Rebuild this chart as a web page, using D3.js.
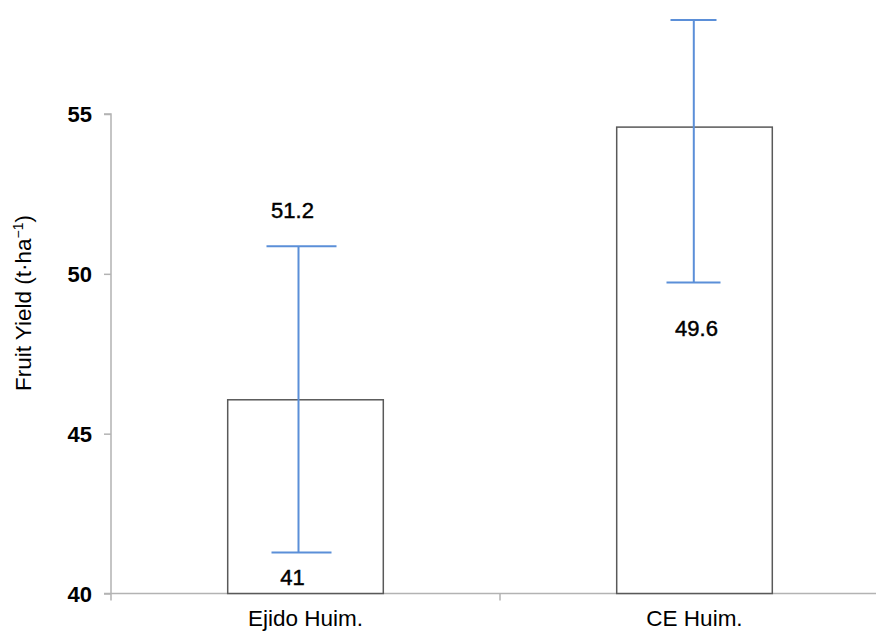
<!DOCTYPE html>
<html>
<head>
<meta charset="utf-8">
<script src="https://cdn.jsdelivr.net/npm/d3@7"></script>
<style>
  html, body { margin: 0; padding: 0; background: #fff; }
  svg { display: block; font-family: "Liberation Sans", Arial, sans-serif; }
</style>
</head>
<body>
<svg id="chart" width="876" height="631"></svg>
<script>
// Mean fruit yield per site with error bars
const categories = ["Ejido Huim.", "CE Huim."];
const meanYield = [46.06, 54.59];
const errHigh = [50.86, 57.94];
const errLow = [41.28, 49.73];
// Annotated extreme values shown beside the whiskers
const highLabels = ["51.2", null];
const lowLabels = ["41", "49.6"];
const yTicks = [40, 45, 50, 55];

const svg = d3.select("#chart");
const margin = { left: 111, bottom: 593.5 };

const y = d3.scaleLinear().domain([40, 55]).range([593.5, 114]);
const x = d3.scaleBand().domain(categories)
  .range([111, 889]).paddingInner(0.6).paddingOuter(0.3);

const axisColor = "#b3b3b3";

// Y axis
const yAxis = svg.append("g").attr("transform", `translate(${margin.left},0)`)
  .call(d3.axisLeft(y).tickValues(yTicks).tickSize(7).tickPadding(12).tickFormat(d3.format("d")));
yAxis.select(".domain").attr("stroke", axisColor).attr("stroke-width", 1.5)
  .attr("d", `M-7,${y(55)}H0V${y(40) + 7}`);
yAxis.selectAll(".tick line").attr("stroke", axisColor).attr("stroke-width", 1.5);
yAxis.selectAll(".tick text").attr("fill", "#000").attr("font-size", 22)
  .attr("font-weight", "bold").attr("dy", "0.36em");

// X axis
const bandStep = x.step();
const xAxis = svg.append("g").attr("transform", `translate(0,${margin.bottom})`);
xAxis.append("path").attr("stroke", axisColor).attr("stroke-width", 1.5).attr("fill", "none")
  .attr("d", `M104,0H${x.range()[1]}`);
const boundaries = [x.range()[0], x.range()[0] + bandStep, x.range()[0] + 2 * bandStep];
xAxis.selectAll("line.sep").data(boundaries.slice(1)).join("line")
  .attr("class", "sep")
  .attr("x1", d => d).attr("x2", d => d).attr("y1", 0).attr("y2", 7)
  .attr("stroke", axisColor).attr("stroke-width", 1.5);
xAxis.selectAll("text.cat").data(categories).join("text")
  .attr("class", "cat")
  .attr("x", d => x(d) + x.bandwidth() / 2).attr("y", 32)
  .attr("text-anchor", "middle").attr("font-size", 22.5).attr("fill", "#000")
  .text(d => d);

// Bars
svg.append("g").selectAll("rect").data(categories).join("rect")
  .attr("x", d => x(d)).attr("width", x.bandwidth())
  .attr("y", (d, i) => y(meanYield[i]))
  .attr("height", (d, i) => y(40) - y(meanYield[i]))
  .attr("fill", "#fff").attr("stroke", "#595959").attr("stroke-width", 1.5);

// Error bars
const whiskerShift = [-7, -0.7];
const capHalfHigh = [35, 23];
const capHalfLow = [30, 27];
const capShift = [-4, -1];
const blue = "#5b8fd8";
const eb = svg.append("g").attr("stroke", blue).attr("stroke-width", 2).attr("fill", "none");
categories.forEach((c, i) => {
  const cx = x(c) + x.bandwidth() / 2;
  const wx = cx + whiskerShift[i];
  const capX = cx + capShift[i];
  eb.append("line").attr("x1", wx).attr("x2", wx)
    .attr("y1", y(errHigh[i])).attr("y2", y(errLow[i]));
  eb.append("line").attr("x1", capX - capHalfHigh[i]).attr("x2", capX + capHalfHigh[i])
    .attr("y1", y(errHigh[i])).attr("y2", y(errHigh[i]));
  eb.append("line").attr("x1", capX - capHalfLow[i]).attr("x2", capX + capHalfLow[i])
    .attr("y1", y(errLow[i])).attr("y2", y(errLow[i]));
});

// Value annotations
const annoOffsetHigh = [-36, 0];
const annoOffsetLow = [24, 46];
const annoShiftX = [-13, 2];
const anno = svg.append("g").attr("font-size", 22).attr("fill", "#000")
  .attr("stroke", "#000").attr("stroke-width", 0.45)
  .attr("text-anchor", "middle");
categories.forEach((c, i) => {
  const cx = x(c) + x.bandwidth() / 2 + annoShiftX[i];
  if (highLabels[i] !== null) {
    anno.append("text").attr("x", cx).attr("y", y(errHigh[i]) + annoOffsetHigh[i])
      .attr("dy", "0.36em").text(highLabels[i]);
  }
  if (lowLabels[i] !== null) {
    anno.append("text").attr("x", cx).attr("y", y(errLow[i]) + annoOffsetLow[i])
      .attr("dy", "0.36em").text(lowLabels[i]);
  }
});

// Y axis title
const yt = svg.append("text")
  .attr("transform", "translate(31,303) rotate(-90)")
  .attr("text-anchor", "middle").attr("font-size", 22.5).attr("fill", "#000");
yt.append("tspan").text("Fruit Yield (t·ha");
yt.append("tspan").attr("font-size", 14).attr("dy", -8).text("−1");
yt.append("tspan").attr("dy", 8).text(")");
</script>
</body>
</html>
